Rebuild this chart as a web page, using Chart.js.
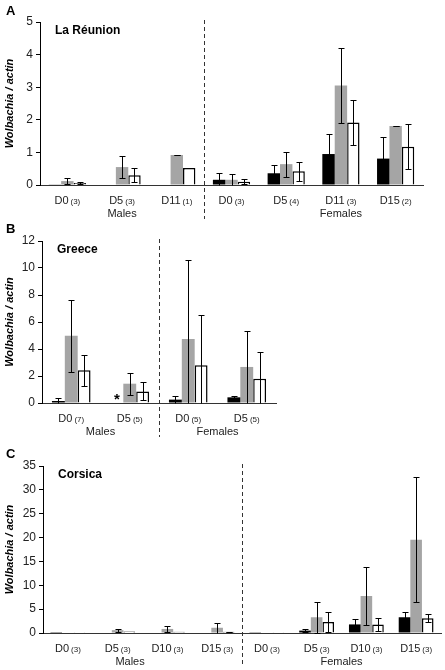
<!DOCTYPE html>
<html>
<head>
<meta charset="utf-8">
<script src="https://cdn.jsdelivr.net/npm/chart.js@4.4.1/dist/chart.umd.min.js"></script>
<style>
  html, body { margin: 0; padding: 0; background: #fff; }
  #wrap { position: relative; width: 445px; height: 670px; }
  canvas { position: absolute; left: 0; }
</style>
</head>
<body>
<div id="wrap">
  <canvas id="chartA" width="445" height="222" style="top:0px"></canvas>
  <canvas id="chartB" width="445" height="225" style="top:215px"></canvas>
  <canvas id="chartC" width="445" height="230" style="top:440px"></canvas>
</div>
<script>
// A - La Réunion
const reunionDays = ["D0", "D5", "D11", "D0", "D5", "D11", "D15"];
const reunionN = ["(3)", "(3)", "(1)", "(3)", "(4)", "(3)", "(2)"];
const reunionBlack = [0.02, 0, 0, 0.16, 0.36, 0.95, 0.81];
const reunionBlackErr = [0, 0, 0, 0.21, 0.25, 0.6, 0.66];
const reunionGrey = [0.12, 0.55, 0.92, 0.16, 0.64, 3.05, 1.81];
const reunionGreyErr = [0.1, 0.34, 0.01, 0.17, 0.38, 1.15, 0.01];
const reunionWhite = [0.06, 0.3, 0.52, 0.1, 0.42, 1.92, 1.17];
const reunionWhiteErr = [0.02, 0.21, 0, 0.08, 0.3, 0.7, 0.69];
const reunionTicks = [0, 1, 2, 3, 4, 5];

// B - Greece
const greeceDays = ["D0", "D5", "D0", "D5"];
const greeceN = ["(7)", "(5)", "(5)", "(5)"];
const greeceBlack = [0.15, 0, 0.25, 0.42];
const greeceBlackErr = [0.2, 0, 0.3, 0.08];
const greeceGrey = [4.98, 1.43, 4.74, 2.67];
const greeceGreyErr = [2.65, 0.82, 5.83, 2.68];
const greeceWhite = [2.42, 0.86, 2.8, 1.8];
const greeceWhiteErr = [1.13, 0.66, 3.69, 1.97];
const greeceTicks = [0, 2, 4, 6, 8, 10, 12];

// C - Corsica
const corsicaDays = ["D0", "D5", "D10", "D15", "D0", "D5", "D10", "D15"];
const corsicaN = ["(3)", "(3)", "(3)", "(3)", "(3)", "(3)", "(3)", "(3)"];
const corsicaBlack = [0.03, 0, 0, 0, 0.05, 0.5, 1.8, 3.3];
const corsicaBlackErr = [0, 0, 0, 0, 0, 0.25, 1.1, 1.0];
const corsicaGrey = [0.1, 0.6, 0.85, 1.1, 0.1, 3.3, 7.75, 19.55];
const corsicaGreyErr = [0, 0.3, 0.55, 1.1, 0, 3.2, 6.1, 13.1];
const corsicaWhite = [0.05, 0.3, 0.25, 0.25, 0.05, 2.3, 1.8, 3.1];
const corsicaWhiteErr = [0, 0, 0, 0.05, 0, 2.15, 1.4, 0.85];
const corsicaTicks = [0, 5, 10, 15, 20, 25, 30, 35];

const FONT = '"Liberation Sans", Arial, sans-serif';
Chart.defaults.font.family = FONT;

function decor(p) {
  return {
    id: "decor",
    afterDatasetsDraw(chart) {
      const c = chart.ctx, ys = chart.scales.y;
      c.save();
      c.strokeStyle = "#000";
      c.lineWidth = 1;
      chart.data.datasets.forEach((ds, i) => {
        chart.getDatasetMeta(i).data.forEach((bar, j) => {
          const v = ds.data[j], e = ds.errors[j];
          if (!e) return;
          const lo = v - e;
          const yt = Math.round(ys.getPixelForValue(v + e)) + 0.5;
          const yb = Math.round(ys.getPixelForValue(Math.max(lo, 0))) + 0.5;
          const x = Math.round(bar.x) + 0.5;
          c.beginPath();
          c.moveTo(x, yt); c.lineTo(x, yb);
          c.moveTo(x - 3, yt); c.lineTo(x + 3, yt);
          if (lo > 0) { c.moveTo(x - 3, yb); c.lineTo(x + 3, yb); }
          c.stroke();
        });
      });
      c.restore();
    },
    afterDraw(chart) {
      const c = chart.ctx, xs = chart.scales.x, ys = chart.scales.y;
      const { left, top, bottom } = chart.chartArea;
      c.save();
      c.fillStyle = "#222";
      c.textBaseline = "alphabetic";
      // category labels "D0 (3)"
      p.days.forEach((d, i) => {
        c.font = "11px " + FONT;
        const w1 = c.measureText(d).width;
        c.font = "8px " + FONT;
        const w2 = c.measureText(p.n[i]).width;
        const x0 = xs.getPixelForValue(i) - (w1 + 2 + w2) / 2;
        c.font = "11px " + FONT;
        c.fillText(d, x0, bottom + 19);
        c.font = "8px " + FONT;
        c.fillText(p.n[i], x0 + w1 + 2, bottom + 19);
      });
      // Males / Females
      c.font = "11px " + FONT;
      c.textAlign = "center";
      p.groups.forEach(g => c.fillText(g.label, xs.getPixelForValue(g.at), bottom + 32));
      // dashed divider
      const dx = Math.round(xs.getPixelForValue(p.split - 0.5)) + 0.5;
      c.strokeStyle = "#333";
      c.lineWidth = 1;
      c.setLineDash([4, 3]);
      c.beginPath();
      c.moveTo(dx, top - 2);
      c.lineTo(dx, bottom + 34);
      c.stroke();
      c.setLineDash([]);
      // significance marks
      c.fillStyle = "#000";
      c.font = "bold 15px " + FONT;
      p.marks.forEach(m => {
        const bar = chart.getDatasetMeta(m.ds).data[m.cat];
        c.fillText(m.text, bar.x, ys.getPixelForValue(0) + 1);
      });
      // panel letter and place name
      c.textAlign = "left";
      c.font = "bold 13px " + FONT;
      c.fillText(p.letter, 6, p.letterY);
      c.font = "bold 12px " + FONT;
      c.fillText(p.title, left + 15, top + 12);
      c.restore();
    }
  };
}

function drawPanel(id, p) {
  const ctx = document.getElementById(id).getContext("2d");
  return new Chart(ctx, {
    type: "bar",
    data: {
      labels: p.days,
      datasets: [
        { data: p.black, errors: p.blackErr, backgroundColor: "#000" },
        { data: p.grey, errors: p.greyErr, backgroundColor: "#a5a5a5" },
        { data: p.white, errors: p.whiteErr, backgroundColor: "#fff", borderColor: "#000", borderWidth: 1.5 }
      ]
    },
    options: {
      responsive: false,
      animation: false,
      devicePixelRatio: 1,
      categoryPercentage: p.catPct,
      barPercentage: 1,
      layout: { padding: { top: p.top, right: p.right, bottom: 0, left: 0 } },
      plugins: { legend: { display: false }, tooltip: { enabled: false } },
      scales: {
        x: {
          grid: { display: false },
          border: { display: true, color: "#333" },
          ticks: { display: false },
          afterFit: s => { s.height = 37; }
        },
        y: {
          min: p.ticks[0],
          max: p.ticks[p.ticks.length - 1],
          afterBuildTicks: s => { s.ticks = p.ticks.map(v => ({ value: v })); },
          grid: { display: true, drawOnChartArea: false, drawTicks: true, tickLength: 4, color: "#000" },
          border: { display: true, color: "#000" },
          ticks: { font: { size: 12 }, color: "#222", padding: 3 },
          title: {
            display: true,
            text: "Wolbachia / actin",
            color: "#000",
            font: { size: 11, style: "italic", weight: "bold" },
            padding: { top: 3, bottom: 0 }
          },
          afterFit: s => { s.width = p.axisW; }
        }
      }
    },
    plugins: [decor(p)]
  });
}

drawPanel("chartA", {
  letter: "A", letterY: 15, title: "La Réunion",
  days: reunionDays, n: reunionN,
  black: reunionBlack, blackErr: reunionBlackErr,
  grey: reunionGrey, greyErr: reunionGreyErr,
  white: reunionWhite, whiteErr: reunionWhiteErr,
  ticks: reunionTicks, split: 3,
  groups: [{ label: "Males", at: 1 }, { label: "Females", at: 5 }],
  marks: [],
  top: 22, right: 22, axisW: 40, catPct: 0.68
});

drawPanel("chartB", {
  letter: "B", letterY: 18, title: "Greece",
  days: greeceDays, n: greeceN,
  black: greeceBlack, blackErr: greeceBlackErr,
  grey: greeceGrey, greyErr: greeceGreyErr,
  white: greeceWhite, whiteErr: greeceWhiteErr,
  ticks: greeceTicks, split: 2,
  groups: [{ label: "Males", at: 0.5 }, { label: "Females", at: 2.5 }],
  marks: [{ cat: 1, ds: 0, text: "*" }],
  top: 26, right: 169, axisW: 42, catPct: 0.66
});

drawPanel("chartC", {
  letter: "C", letterY: 18, title: "Corsica",
  days: corsicaDays, n: corsicaN,
  black: corsicaBlack, blackErr: corsicaBlackErr,
  grey: corsicaGrey, greyErr: corsicaGreyErr,
  white: corsicaWhite, whiteErr: corsicaWhiteErr,
  ticks: corsicaTicks, split: 4,
  groups: [{ label: "Males", at: 1.25 }, { label: "Females", at: 5.5 }],
  marks: [],
  top: 26, right: 4, axisW: 43, catPct: 0.7
});
</script>
</body>
</html>
